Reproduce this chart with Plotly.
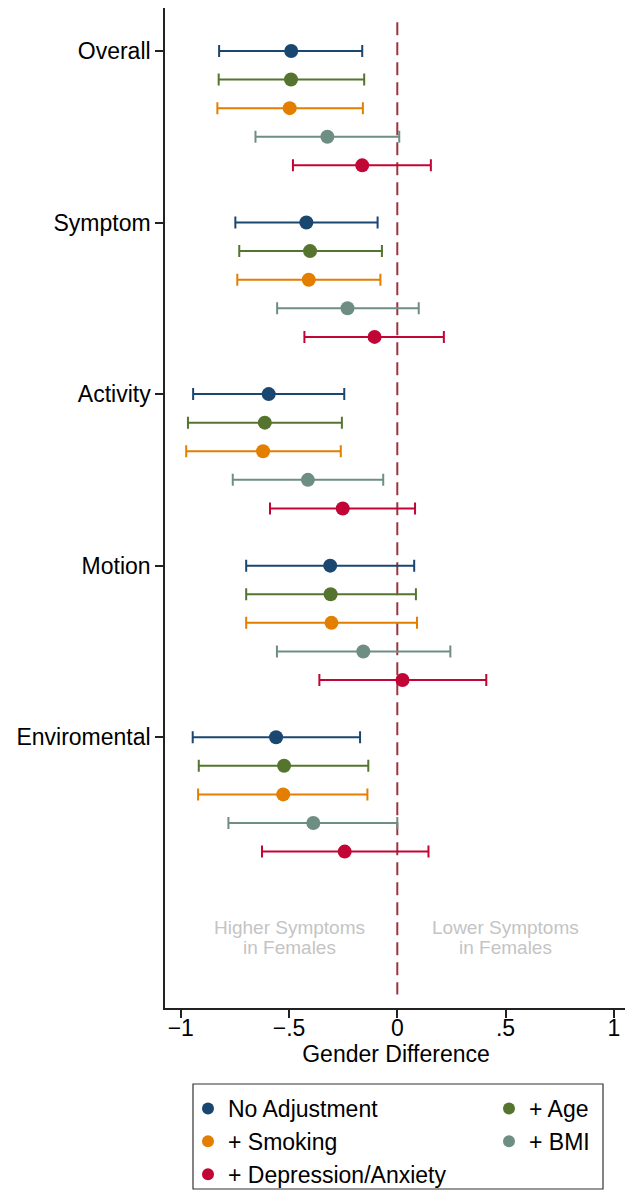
import plotly.graph_objects as go

categories = ["Overall", "Symptom", "Activity", "Motion", "Enviromental"]
series_names = ["No Adjustment", "+ Age", "+ Smoking", "+ BMI", "+ Depression/Anxiety"]
series_colors = ["#1a476f", "#55752f", "#e37e00", "#6e8e84", "#c10534"]

# estimates, lower CI, upper CI per series (order of categories)
est_no_adj = [-0.490, -0.420, -0.594, -0.310, -0.560]
lo_no_adj = [-0.823, -0.748, -0.943, -0.698, -0.945]
hi_no_adj = [-0.162, -0.091, -0.245, 0.078, -0.172]

est_age = [-0.491, -0.403, -0.612, -0.308, -0.523]
lo_age = [-0.825, -0.730, -0.967, -0.698, -0.917]
hi_age = [-0.153, -0.071, -0.256, 0.086, -0.134]

est_smoking = [-0.497, -0.409, -0.620, -0.304, -0.527]
lo_smoking = [-0.831, -0.739, -0.975, -0.698, -0.920]
hi_smoking = [-0.159, -0.078, -0.261, 0.091, -0.138]

est_bmi = [-0.323, -0.230, -0.413, -0.157, -0.388]
lo_bmi = [-0.655, -0.555, -0.760, -0.556, -0.780]
hi_bmi = [0.009, 0.099, -0.065, 0.245, 0.000]

est_dep = [-0.162, -0.105, -0.252, 0.024, -0.243]
lo_dep = [-0.482, -0.429, -0.588, -0.360, -0.625]
hi_dep = [0.155, 0.215, 0.082, 0.411, 0.144]

x_tickvals = [-1, -0.5, 0, 0.5, 1]
x_ticktext = ["\u22121", "\u2212.5", "0", ".5", "1"]

estimates = [est_no_adj, est_age, est_smoking, est_bmi, est_dep]
lowers = [lo_no_adj, lo_age, lo_smoking, lo_bmi, lo_dep]
uppers = [hi_no_adj, hi_age, hi_smoking, hi_bmi, hi_dep]

FONT = "Arial, Liberation Sans, sans-serif"
# page body has an 8px default margin: figure drawn 8px right/down
OFF = 8
W, H = 633 - OFF, 1193 - OFF
L, T, R = 165 - OFF, 0, 6
PLOT_H = 1008 - OFF - T
B = H - T - PLOT_H
slot = 6
fig = go.Figure()

for s, name in enumerate(series_names):
    ys = [c * slot + s for c in range(len(categories))]
    est = estimates[s]
    plus = [u - e for u, e in zip(uppers[s], est)]
    minus = [e - l for e, l in zip(est, lowers[s])]
    fig.add_trace(go.Scatter(
        x=est, y=ys, mode="markers", name=name,
        marker=dict(color=series_colors[s], size=14),
        error_x=dict(type="data", symmetric=False, array=plus, arrayminus=minus,
                     color=series_colors[s], thickness=2, width=6),
        legend="legend" if s in (0, 2, 4) else "legend2",
    ))

# reference line at 0
fig.add_shape(type="line", xref="x", yref="y", x0=0, x1=0, y0=-1, y1=33,
              line=dict(color="#9b3541", width=2, dash="13px,7px"), layer="below")

# region annotations
for xv, l1, l2 in [(-0.5, "Higher Symptoms", "in Females"), (0.5, "Lower Symptoms", "in Females")]:
    fig.add_annotation(x=xv, y=30.67, xref="x", yref="y", text=l1, showarrow=False,
                       font=dict(family=FONT, size=19, color="#c4c4c4"))
    fig.add_annotation(x=xv, y=31.34, xref="x", yref="y", text=l2, showarrow=False,
                       font=dict(family=FONT, size=19, color="#c4c4c4"))

# legend box (container pixel coords converted to paper)
def px_x(px):
    return (px - OFF - L) / (W - L - R)

def px_y(py):
    return (T + PLOT_H - (py - OFF)) / PLOT_H

fig.add_shape(type="rect", xref="paper", yref="paper",
              x0=px_x(193), x1=px_x(603), y0=px_y(1189), y1=px_y(1084),
              line=dict(color="#333333", width=1.2), fillcolor="rgba(0,0,0,0)")

leg_font = dict(family=FONT, size=23, color="black")
fig.update_layout(
    width=W, height=H,
    margin=dict(l=L, r=R, t=T, b=B, autoexpand=False),
    paper_bgcolor="white", plot_bgcolor="white",
    font=dict(family=FONT, size=23, color="black"),
    showlegend=True,
    legend=dict(xref="container", yref="container", x=180 / W, y=1 - 1079 / H,
                xanchor="left", yanchor="top", itemsizing="constant",
                bgcolor="rgba(0,0,0,0)", font=leg_font, orientation="v"),
    legend2=dict(xref="container", yref="container", x=481 / W, y=1 - 1079 / H,
                 xanchor="left", yanchor="top", itemsizing="constant",
                 bgcolor="rgba(0,0,0,0)", font=leg_font, orientation="v"),
    xaxis=dict(range=[-1.073, 1.061], tickvals=x_tickvals, ticktext=x_ticktext,
               automargin=False,
               showgrid=False, zeroline=False, showline=True, linecolor="#222222", linewidth=1.5,
               ticks="outside", ticklen=8, tickwidth=1.5, tickcolor="#222222",
               ticklabelstandoff=-9,
               tickfont=dict(family=FONT, size=23, color="black"),
               title=dict(text="Gender Difference", font=dict(family=FONT, size=23, color="black"), standoff=0)),
    yaxis=dict(range=[33.47, -1.502], tickvals=[c * slot for c in range(len(categories))],
               ticktext=categories, automargin=False,
               showgrid=False, zeroline=False, showline=True, linecolor="#222222", linewidth=1.5,
               ticks="outside", ticklen=8, tickwidth=1.5, tickcolor="#222222",
               tickfont=dict(family=FONT, size=23, color="black")),
)

fig.write_html("out.html")
